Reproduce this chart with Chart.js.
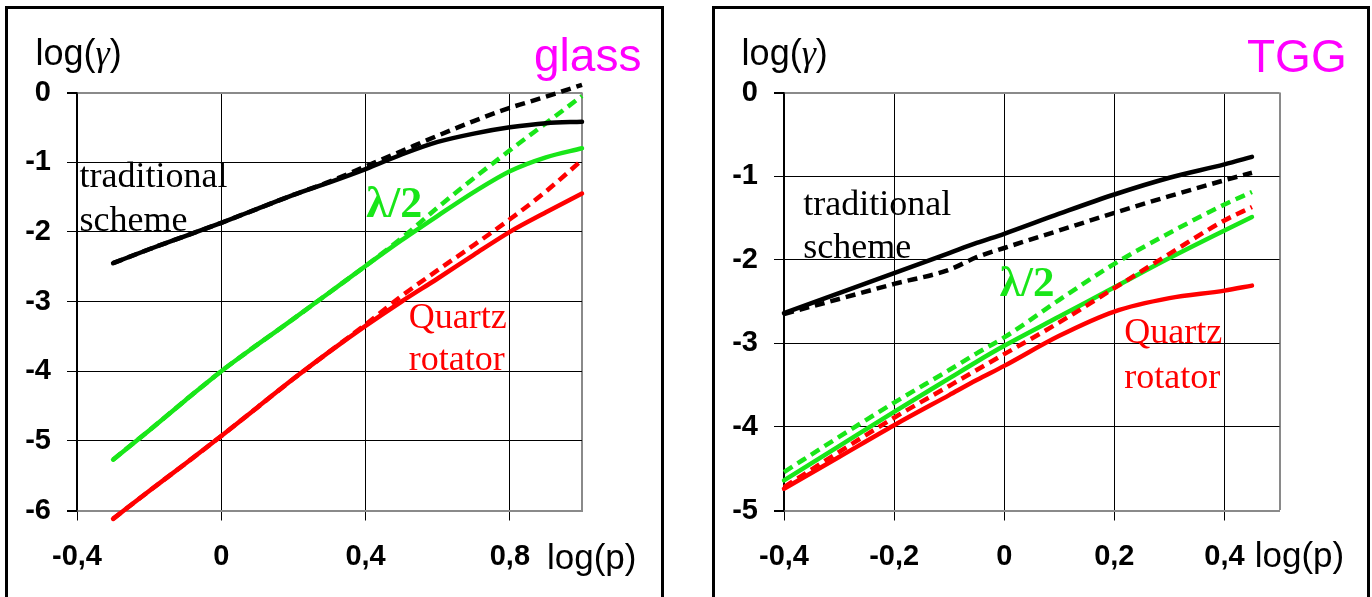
<!DOCTYPE html>
<html>
<head>
<meta charset="utf-8">
<script src="https://cdn.jsdelivr.net/npm/chart.js@4.4.1/dist/chart.umd.min.js"></script>
<style>
  html, body { margin: 0; padding: 0; background: #fff; overflow: hidden; }
  body { width: 1372px; height: 597px; position: relative; }
  .panel { position: absolute; top: 6px; height: 640px; border: 3px solid #000; box-sizing: border-box; }
  canvas { position: absolute; top: 0; }
</style>
</head>
<body>
<div class="panel" style="left:5px;width:659px"></div>
<div class="panel" style="left:712px;width:658px"></div>
<canvas id="glassChart" width="686" height="597" style="left:0"></canvas>
<canvas id="tggChart" width="686" height="597" style="left:686px"></canvas>
<script>
// ---- glass panel ----
const glassP = [-0.3, -0.2, -0.1, 0, 0.1, 0.2, 0.3, 0.4, 0.5, 0.6, 0.7, 0.8, 0.9, 1.0];
const glassTradSolid  = [-2.45, -2.25, -2.06, -1.87, -1.67, -1.47, -1.29, -1.10, -0.89, -0.71, -0.59, -0.50, -0.44, -0.42];
const glassTradDashed = [-2.45, -2.25, -2.06, -1.87, -1.67, -1.47, -1.28, -1.06, -0.84, -0.62, -0.41, -0.22, -0.06, 0.11];
const glassHalfSolid  = [-5.27, -4.85, -4.42, -4.00, -3.62, -3.25, -2.87, -2.49, -2.12, -1.77, -1.43, -1.13, -0.93, -0.80];
const glassHalfDashed = [-5.27, -4.85, -4.42, -4.00, -3.62, -3.25, -2.87, -2.49, -2.09, -1.65, -1.23, -0.83, -0.44, -0.05];
const glassQuartzSolid  = [-6.12, -5.72, -5.33, -4.93, -4.52, -4.11, -3.72, -3.35, -3.00, -2.67, -2.33, -2.00, -1.72, -1.45];
const glassQuartzDashed = [-6.12, -5.72, -5.33, -4.93, -4.52, -4.11, -3.72, -3.33, -2.92, -2.55, -2.19, -1.82, -1.42, -0.97];
const glassXTicks = [-0.4, 0, 0.4, 0.8, 1.0];
const glassXLabels = ['-0,4', '0', '0,4', '0,8', ''];
const glassYTicks = [-6, -5, -4, -3, -2, -1, 0];
const glassYLabels = ['-6', '-5', '-4', '-3', '-2', '-1', '0'];

// ---- TGG panel ----
const tggP = [-0.4, -0.3, -0.2, -0.1, -0.05, 0, 0.1, 0.2, 0.3, 0.4, 0.45];
const tggTradSolid  = [-2.64, -2.40, -2.16, -1.92, -1.80, -1.69, -1.45, -1.22, -1.02, -0.86, -0.77];
const tggTradDashed = [-2.65, -2.47, -2.29, -2.12, -1.97, -1.86, -1.65, -1.44, -1.24, -1.05, -0.96];
const tggHalfSolid  = [-4.64, -4.23, -3.82, -3.42, -3.22, -3.03, -2.68, -2.33, -1.98, -1.65, -1.49];
const tggHalfDashed = [-4.54, -4.12, -3.71, -3.32, -3.12, -2.93, -2.48, -2.05, -1.68, -1.34, -1.19];
const tggQuartzSolid  = [-4.74, -4.36, -3.98, -3.62, -3.44, -3.27, -2.91, -2.62, -2.46, -2.37, -2.31];
const tggQuartzDashed = [-4.72, -4.30, -3.89, -3.51, -3.32, -3.13, -2.75, -2.34, -1.93, -1.53, -1.37];
const tggXTicks = [-0.4, -0.2, 0, 0.2, 0.4, 0.5];
const tggXLabels = ['-0,4', '-0,2', '0', '0,2', '0,4', ''];
const tggYTicks = [-5, -4, -3, -2, -1, 0];
const tggYLabels = ['-5', '-4', '-3', '-2', '-1', '0'];

const BLACK = '#000000';
const GREEN = '#19e619';
const RED = '#ff0000';
const MAGENTA = '#ff00ff';
const EDGE = '#8a8a8a';
const SANS = '"Liberation Sans", Arial, sans-serif';
const SERIF = '"Liberation Serif", "Times New Roman", serif';

function line(xs, ys, color, dashed) {
    return {
        data: xs.map((x, i) => ({ x: x, y: ys[i] })),
        borderColor: color,
        borderWidth: 4.5,
        borderDash: dashed ? [10, 6] : [],
        borderCapStyle: dashed ? 'butt' : 'round',
        pointRadius: 0,
        cubicInterpolationMode: 'monotone',
        fill: false,
        clip: false
    };
}

// text drawn in data coordinates on top of the chart; an item may be made of parts with their own fonts
function notes(items) {
    return {
        id: 'notes',
        afterDraw(chart) {
            const ctx = chart.ctx;
            const sx = chart.scales.x, sy = chart.scales.y;
            ctx.save();
            ctx.textAlign = 'left';
            ctx.textBaseline = 'alphabetic';
            items.forEach(n => {
                let px = sx.getPixelForValue(n.x);
                const py = sy.getPixelForValue(n.y);
                const parts = n.parts || [[n.text, n.font]];
                ctx.fillStyle = n.color;
                parts.forEach(p => {
                    ctx.font = p[1];
                    ctx.fillText(p[0], px, py);
                    px += ctx.measureText(p[0]).width;
                });
            });
            ctx.restore();
        }
    };
}

function scales(xTicks, xLabels, yTicks, yLabels, yWidth) {
    const xMax = xTicks[xTicks.length - 1];
    const yMin = yTicks[0], yMax = yTicks[yTicks.length - 1];
    const tickFont = { family: SANS, size: 29, weight: 'bold' };
    return {
        x: {
            type: 'linear',
            min: xTicks[0],
            max: xMax,
            afterBuildTicks: s => { s.ticks = xTicks.map(v => ({ value: v })); },
            afterFit: s => { s.height = 86.5; },
            ticks: {
                autoSkip: false, maxRotation: 0, padding: 19, color: BLACK, font: tickFont,
                callback: (v, i) => xLabels[i]
            },
            grid: {
                color: c => (c.tick && c.tick.value === xMax) ? EDGE : BLACK,
                lineWidth: c => (c.tick && c.tick.value === xMax) ? 2 : 1,
                tickColor: c => (c.tick && c.tick.value === xMax) ? 'rgba(0,0,0,0)' : BLACK,
                tickLength: 10
            },
            border: { color: EDGE, width: 2 }
        },
        y: {
            type: 'linear',
            min: yMin,
            max: yMax,
            afterBuildTicks: s => { s.ticks = yTicks.map(v => ({ value: v })); },
            afterFit: s => { s.width = yWidth; },
            ticks: {
                padding: 16, color: BLACK, font: tickFont,
                callback: (v, i) => yLabels[i]
            },
            grid: {
                color: c => (c.tick && (c.tick.value === yMax || c.tick.value === yMin)) ? EDGE : BLACK,
                lineWidth: c => (c.tick && (c.tick.value === yMax || c.tick.value === yMin)) ? 2 : 1,
                tickColor: BLACK,
                tickLength: 10
            },
            border: { color: BLACK, width: 1.5 }
        }
    };
}

function baseOptions(padRight, sc) {
    return {
        responsive: false,
        animation: false,
        events: [],
        layout: { padding: { top: 92.5, right: padRight, left: 0, bottom: 0 } },
        scales: sc,
        plugins: { legend: { display: false }, tooltip: { enabled: false } }
    };
}

const gammaParts = [['log(', '36px ' + SANS], ['\u03b3', 'italic 36px ' + SERIF], [')', '36px ' + SANS]];

new Chart(document.getElementById('glassChart'), {
    type: 'line',
    data: {
        datasets: [
            line(glassP, glassTradDashed, BLACK, true),
            line(glassP, glassTradSolid, BLACK, false),
            line(glassP, glassHalfDashed, GREEN, true),
            line(glassP, glassHalfSolid, GREEN, false),
            line(glassP, glassQuartzDashed, RED, true),
            line(glassP, glassQuartzSolid, RED, false)
        ]
    },
    options: baseOptions(104, scales(glassXTicks, glassXLabels, glassYTicks, glassYLabels, 77)),
    plugins: [notes([
        { parts: gammaParts, x: -0.515, y: 0.40, color: BLACK },
        { text: 'glass', x: 0.867, y: 0.31, font: '46px ' + SANS, color: MAGENTA },
        { text: 'log(p)', x: 0.903, y: -6.84, font: '35px ' + SANS, color: BLACK },
        { text: 'traditional', x: -0.393, y: -1.357, font: '36px ' + SERIF, color: BLACK },
        { text: 'scheme', x: -0.393, y: -1.99, font: '36px ' + SERIF, color: BLACK },
        { text: '\u03bb/2', x: 0.402, y: -1.78, font: 'bold 44px ' + SERIF, color: GREEN },
        { text: 'Quartz', x: 0.52, y: -3.38, font: '36px ' + SERIF, color: RED },
        { text: 'rotator', x: 0.52, y: -3.99, font: '36px ' + SERIF, color: RED }
    ])]
});

new Chart(document.getElementById('tggChart'), {
    type: 'line',
    data: {
        datasets: [
            line(tggP, tggTradDashed, BLACK, true),
            line(tggP, tggTradSolid, BLACK, false),
            line(tggP, tggHalfDashed, GREEN, true),
            line(tggP, tggQuartzDashed, RED, true),
            line(tggP, tggHalfSolid, GREEN, false),
            line(tggP, tggQuartzSolid, RED, false)
        ]
    },
    options: baseOptions(92.5, scales(tggXTicks, tggXLabels, tggYTicks, tggYLabels, 98)),
    plugins: [notes([
        { parts: gammaParts, x: -0.477, y: 0.33, color: BLACK },
        { text: 'TGG', x: 0.441, y: 0.25, font: '46px ' + SANS, color: MAGENTA },
        { text: 'log(p)', x: 0.455, y: -5.67, font: '35px ' + SANS, color: BLACK },
        { text: 'traditional', x: -0.365, y: -1.47, font: '36px ' + SERIF, color: BLACK },
        { text: 'scheme', x: -0.365, y: -1.98, font: '36px ' + SERIF, color: BLACK },
        { text: '\u03bb/2', x: -0.008, y: -2.43, font: 'bold 43px ' + SERIF, color: GREEN },
        { text: 'Quartz', x: 0.218, y: -3.0, font: '36px ' + SERIF, color: RED },
        { text: 'rotator', x: 0.218, y: -3.53, font: '36px ' + SERIF, color: RED }
    ])]
});
</script>
</body>
</html>
